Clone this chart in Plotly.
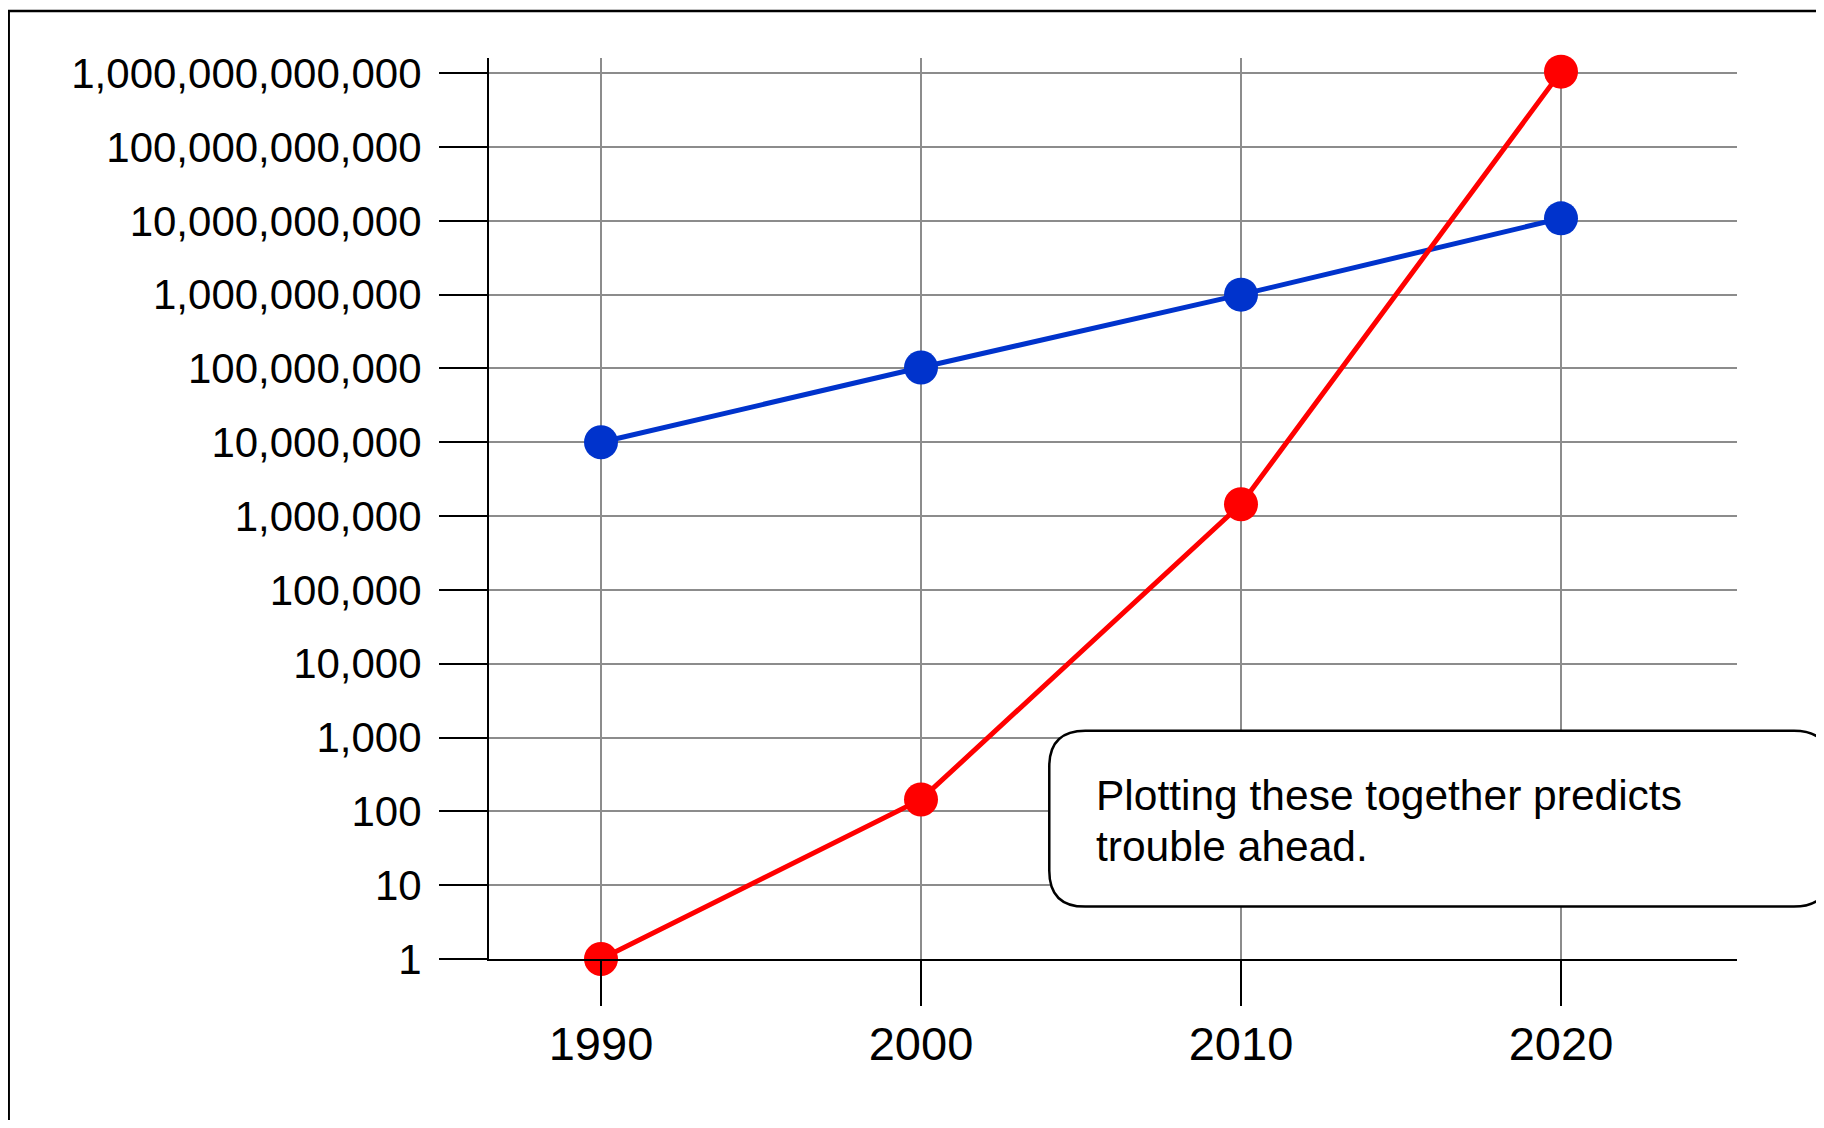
import plotly.graph_objects as go

# ---- data ----
years = [1990, 2000, 2010, 2020]
blue_values = [1e7, 1.03e8, 1.0e9, 1.08e10]
red_values = [1, 145, 1.45e6, 1.05e12]
y_tick_values = [10 ** k for k in range(13)]
y_tick_labels = [f"{v:,}" for v in y_tick_values]
x_tick_labels = ["1990", "2000", "2010", "2020"]
note_lines = ["Plotting these together predicts", "trouble ahead."]

# ---- layout geometry (page pixels; the page body has an 8px margin) ----
OFF = 8
W, H = 1808, 1112
PLOT_L, PLOT_R, PLOT_T, PLOT_B = 488.5, 1737, 58, 959.4
DECADE = 73.85
ML = PLOT_L - OFF
MR = W - (PLOT_R - OFF)
MT = PLOT_T - OFF
MB = H - (PLOT_B - OFF)
PW = PLOT_R - PLOT_L
PH = PLOT_B - PLOT_T
Y_TOP = PH / DECADE


def px_x(x):
    return (x - PLOT_L) / PW


def px_y(y):
    return (PLOT_B - y) / PH


FONT = "Liberation Sans, Arial, sans-serif"
GRID = "#8c8c8c"

fig = go.Figure()
fig.add_trace(go.Scatter(
    x=years, y=blue_values, mode="lines+markers",
    line=dict(color="#0033cc", width=5),
    marker=dict(color="#0033cc", size=34),
    cliponaxis=False, showlegend=False,
))
fig.add_trace(go.Scatter(
    x=years, y=red_values, mode="lines+markers",
    line=dict(color="#ff0000", width=5),
    marker=dict(color="#ff0000", size=34),
    cliponaxis=False, showlegend=False,
))

# rounded annotation box
bx0, by0, bx1, by1, r = 1049, 731, 1830, 907, 36
x0, x1 = px_x(bx0), px_x(bx1)
y0, y1 = px_y(by0), px_y(by1)
rx, ry = r / PW, r / PH
path = (
    f"M {x0 + rx},{y0} L {x1 - rx},{y0} Q {x1},{y0} {x1},{y0 - ry} "
    f"L {x1},{y1 + ry} Q {x1},{y1} {x1 - rx},{y1} "
    f"L {x0 + rx},{y1} Q {x0},{y1} {x0},{y1 + ry} "
    f"L {x0},{y0 - ry} Q {x0},{y0} {x0 + rx},{y0} Z"
)
shapes = [
    dict(type="path", xref="paper", yref="paper", path=path,
         fillcolor="white", line=dict(color="black", width=2.5), layer="above"),
    dict(type="rect", xref="paper", yref="paper",
         x0=px_x(8), x1=px_x(1840), y0=px_y(11), y1=px_y(1140),
         line=dict(color="black", width=2.5), layer="above"),
]

annotations = [
    dict(xref="paper", yref="paper", x=px_x(1094), y=px_y(yy),
         xanchor="left", yanchor="middle", align="left", showarrow=False,
         text=line, font=dict(family=FONT, size=42.5, color="black"))
    for line, yy in zip(note_lines, [796, 847])
]

fig.update_layout(
    width=W, height=H,
    margin=dict(l=ML, r=MR, t=MT, b=MB, pad=0),
    paper_bgcolor="white", plot_bgcolor="white",
    font=dict(family=FONT, color="black"),
    shapes=shapes,
    annotations=annotations,
)
fig.update_xaxes(
    range=[1986.5, 2025.5], tickvals=years, ticktext=x_tick_labels,
    ticks="outside", ticklen=45, tickwidth=2, tickcolor="black",
    showgrid=True, gridcolor=GRID, gridwidth=1.5,
    showline=True, linecolor="black", linewidth=2, zeroline=False,
    tickfont=dict(family=FONT, size=47, color="black"),
    ticklabelstandoff=-2,
)
fig.update_yaxes(
    type="log", range=[0, Y_TOP], tickvals=y_tick_values, ticktext=y_tick_labels,
    ticks="outside", ticklen=48, tickwidth=2, tickcolor="black",
    showgrid=True, gridcolor=GRID, gridwidth=1.5,
    showline=True, linecolor="black", linewidth=2, zeroline=False,
    tickfont=dict(family=FONT, size=42, color="black"),
    ticklabelstandoff=9,
)

fig.write_html("out.html")
